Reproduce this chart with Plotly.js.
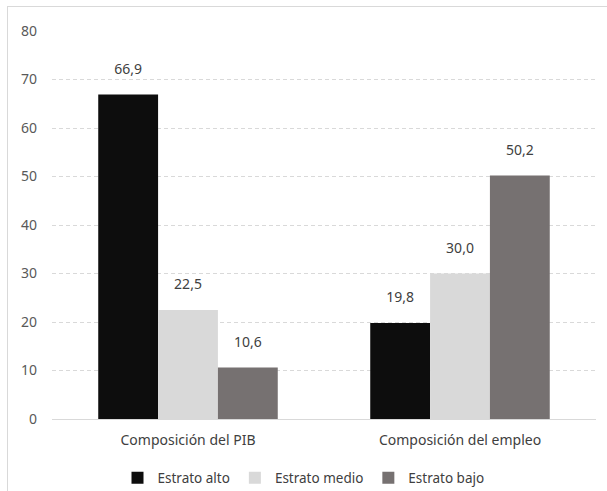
<!DOCTYPE html>
<html>
<head>
<meta charset="utf-8">
<script src="https://cdn.plot.ly/plotly-3.0.1.min.js"></script>
<style>
  html, body { margin: 0; padding: 0; background: #fff; }
  #wrap { position: relative; width: 607px; height: 491px; }
  #chart { width: 607px; height: 491px; }
  #frame { position: absolute; left: 7px; top: 6px; right: 0; bottom: 0;
           border-left: 1px solid #d9d9d9; border-top: 1px solid #d9d9d9; pointer-events: none; }
</style>
</head>
<body>
<div id="wrap">
  <div id="chart"></div>
  <div id="frame"></div>
</div>
<script>
// Categories and series
const categories = ['Composición del PIB', 'Composición del empleo'];
const seriesNames = ['Estrato alto', 'Estrato medio', 'Estrato bajo'];
const estratoAlto = [66.9, 19.8];
const estratoMedio = [22.5, 30.0];
const estratoBajo = [10.6, 50.2];
const yTicks = [0, 10, 20, 30, 40, 50, 60, 70, 80];

const colors = ['#0d0d0d', '#d9d9d9', '#767171'];
const values = [estratoAlto, estratoMedio, estratoBajo];
const font = 'Noto Sans, Open Sans, sans-serif';

const traces = [];
values.forEach((v, i) => {
  traces.push({
    type: 'bar', name: seriesNames[i], x: categories, y: v,
    marker: { color: colors[i] }, offsetgroup: 'g' + i,
    hoverinfo: 'skip'
  });
});
// value labels placed above each bar
values.forEach((v, i) => {
  traces.push({
    type: 'scatter', mode: 'markers+text', x: categories, y: v,
    offsetgroup: 'g' + i, showlegend: false, hoverinfo: 'skip',
    marker: { size: 26, opacity: 0 },
    text: v.map(n => n.toFixed(1).replace('.', ',')),
    textposition: 'top center',
    textfont: { family: font, size: 14, color: '#404040' }
  });
});

const layout = {
  width: 607, height: 491,
  margin: { l: 52, r: 11, t: 31, b: 72 },
  paper_bgcolor: '#fff', plot_bgcolor: '#fff',
  barmode: 'group', bargap: 0.34, bargroupgap: 0,
  scattermode: 'group', scattergap: 0.34,
  font: { family: font, size: 14, color: '#595959' },
  xaxis: {
    type: 'category', showgrid: false, ticks: '', showline: true,
    linecolor: '#d9d9d9', linewidth: 1, ticklabelstandoff: 8,
    tickfont: { family: font, size: 14, color: '#404040' }
  },
  yaxis: {
    range: [0, 80], tickvals: yTicks, showline: false, zeroline: false,
    gridcolor: '#d9d9d9', griddash: '4px,3px', gridwidth: 1, ticks: '',
    ticklabelstandoff: 14,
    tickfont: { family: font, size: 14, color: '#595959' }
  },
  legend: {
    orientation: 'h', xref: 'container', yref: 'container',
    x: 0.5, xanchor: 'center', y: 0.0265, yanchor: 'middle',
    font: { family: font, size: 13.5, color: '#404040' },
    itemwidth: 30, traceorder: 'normal'
  },
  showlegend: true
};

Plotly.newPlot('chart', traces, layout, { displayModeBar: false, staticPlot: true });
</script>
</body>
</html>
